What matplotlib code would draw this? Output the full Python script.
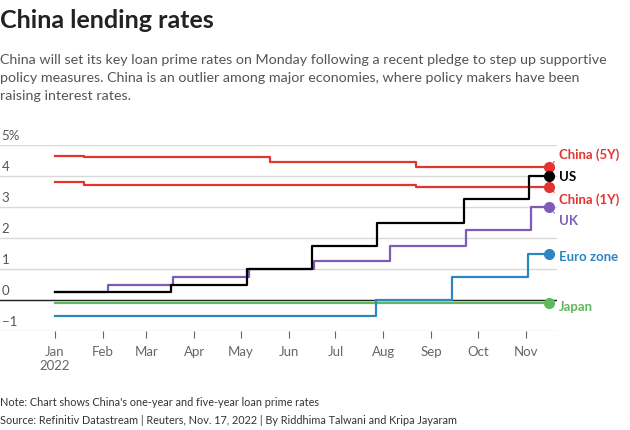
import matplotlib
matplotlib.use("Agg")
import matplotlib.pyplot as plt
import matplotlib.dates as mdates
import pandas as pd

plt.rcParams["font.family"] = ["Lato", "DejaVu Sans"]

# step series: date of change and new rate (%)
end_date = "2022-11-16"

china5y_dates = ["2022-01-01", "2022-01-20", "2022-05-20", "2022-08-22"]
china5y_rates = [4.65, 4.60, 4.45, 4.30]

china1y_dates = ["2022-01-01", "2022-01-20", "2022-08-22"]
china1y_rates = [3.80, 3.70, 3.65]

us_dates = ["2022-01-01", "2022-03-17", "2022-05-05", "2022-06-16", "2022-07-28", "2022-09-22", "2022-11-03"]
us_rates = [0.25, 0.50, 1.00, 1.75, 2.50, 3.25, 4.00]

uk_dates = ["2022-01-01", "2022-02-04", "2022-03-18", "2022-05-06", "2022-06-17", "2022-08-05", "2022-09-23", "2022-11-04"]
uk_rates = [0.25, 0.50, 0.75, 1.00, 1.25, 1.75, 2.25, 3.00]

euro_dates = ["2022-01-01", "2022-07-27", "2022-09-14", "2022-11-02"]
euro_rates = [-0.50, 0.00, 0.75, 1.50]

japan_dates = ["2022-01-01"]
japan_rates = [-0.10]

months = ["Jan\n2022", "Feb", "Mar", "Apr", "May", "Jun", "Jul", "Aug", "Sep", "Oct", "Nov"]
y_ticks = [-1, 0, 1, 2, 3, 4, 5]

RED = "#e3342f"
series = [
    # name, dates, rates, colour, label y offset (points)
    ("Japan", japan_dates, japan_rates, "#5fb85f", -3),
    ("Euro zone", euro_dates, euro_rates, "#2e86c1", -2.5),
    ("UK", uk_dates, uk_rates, "#7d5bb7", -10),
    ("China (1Y)", china1y_dates, china1y_rates, RED, -9),
    ("China (5Y)", china5y_dates, china5y_rates, RED, 8.5),
    ("US", us_dates, us_rates, "#000000", -1),
]

W, H = 630, 430
fig = plt.figure(figsize=(W / 100, H / 100), dpi=100)
ax = fig.add_axes([0, 1 - 331 / H, 557 / W, (331 - 145) / H])

start = mdates.date2num(pd.Timestamp("2022-01-01"))
per_day = (526 - 55) / 304.0
ax.set_xlim(start - 55 / per_day, start + (557 - 55) / per_day)
ax.set_ylim(-1, 5)

for y in y_ticks:
    ax.axhline(y, color="#d9d9d9", lw=1, zorder=0)
ax.axhline(0, color="#222222", lw=1, zorder=1)

end = pd.Timestamp(end_date)
for name, dates, rates, col, dy in series:
    d = list(pd.to_datetime(dates)) + [end]
    r = list(rates) + [rates[-1]]
    ax.step(d, r, where="post", color=col, lw=1.6, zorder=3)
    ax.plot([end], [rates[-1]], "o", color=col, ms=7, zorder=4, clip_on=False)
    ax.annotate(name, xy=(end, rates[-1]), xytext=(7, dy), textcoords="offset points",
                ha="left", va="center", color=col, fontsize=9.5, fontweight="bold",
                annotation_clip=False)
    if abs(dy) > 5:
        ax.annotate("", xy=(end, rates[-1]), xytext=(5, dy * 0.6), textcoords="offset points",
                    arrowprops=dict(arrowstyle="-", color=col, lw=0.8, ls=":"),
                    annotation_clip=False)

month_pos = pd.date_range("2022-01-01", periods=11, freq="MS")
ax.set_xticks(month_pos)
ax.set_xticklabels(months)
ax.set_yticks([])
ax.tick_params(axis="x", length=5, color="#666666", labelcolor="#666666",
               labelsize=9.5, pad=6)
for s in ax.spines.values():
    s.set_visible(False)

for y in y_ticks:
    lab = "5%" if y == 5 else ("\u22121" if y == -1 else str(y))
    ax.text(0.003, y + 0.1, lab, transform=ax.get_yaxis_transform(), ha="left",
            va="bottom", fontsize=9.5, color="#555555")

fig.text(0.0, 1 - 20 / H, "China lending rates", fontsize=18, fontweight="bold",
         color="#222222", va="center", ha="left")
fig.text(0.0, 1 - 78 / H,
         "China will set its key loan prime rates on Monday following a recent pledge to step up supportive\n"
         "policy measures. China is an outlier among major economies, where policy makers have been\n"
         "raising interest rates.",
         fontsize=10.3, color="#555555", va="center", ha="left", linespacing=1.55)
fig.text(0.0, 1 - 403 / H, "Note: Chart shows China's one-year and five-year loan prime rates",
         fontsize=7.8, color="#333333", va="center", ha="left")
fig.text(0.0, 1 - 421 / H,
         "Source: Refinitiv Datastream | Reuters, Nov. 17, 2022 | By Riddhima Talwani and Kripa Jayaram",
         fontsize=7.8, color="#333333", va="center", ha="left")

fig.savefig("out.png", dpi=100)
